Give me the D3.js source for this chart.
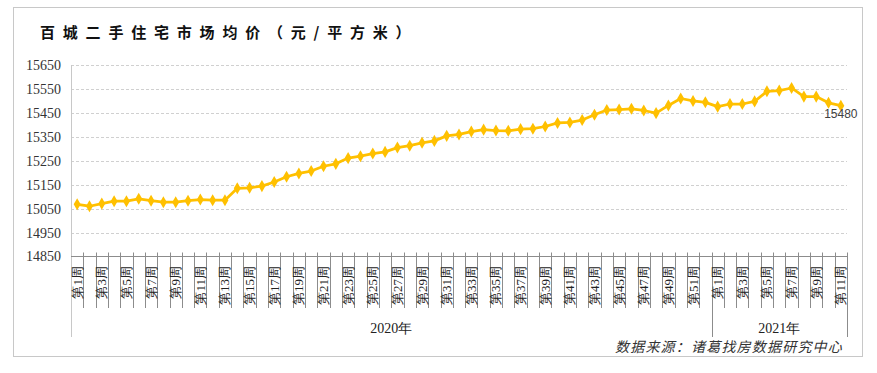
<!DOCTYPE html>
<html>
<head>
<meta charset="utf-8">
<script src="https://cdn.jsdelivr.net/npm/d3@7"></script>
<style>
  body { margin: 0; background: #fff; }
  svg { display: block; }
</style>
</head>
<body>
<div id="chart"></div>
<script>
// data
var weeks2020 = d3.range(1, 53).map(function(n) { return "第" + n + "周"; });
var weeks2021 = d3.range(1, 12).map(function(n) { return "第" + n + "周"; });
var values2020 = [15068, 15060, 15071, 15081, 15081, 15091, 15083, 15077, 15077, 15083,
                  15088, 15085, 15085, 15135, 15137, 15144, 15161, 15183, 15197, 15207,
                  15227, 15237, 15261, 15269, 15280, 15287, 15305, 15313, 15325, 15333,
                  15354, 15360, 15372, 15380, 15376, 15375, 15382, 15384, 15393, 15408,
                  15410, 15420, 15442, 15462, 15464, 15467, 15460, 15449, 15481, 15510,
                  15500, 15494];
var values2021 = [15476, 15487, 15487, 15498, 15540, 15543, 15554, 15518, 15518, 15492, 15480];
var years = ["2020年", "2021年"];
var yTicks = [14850, 14950, 15050, 15150, 15250, 15350, 15450, 15550, 15650];

var svgWidth = 877;
var svgHeight = 373;

var plot = { left: 71, right: 847, top: 65, bottom: 256.5 };

var svg = d3.select("#chart")
  .append("svg")
  .attr("width", svgWidth)
  .attr("height", svgHeight);

svg.append("rect")
  .attr("width", svgWidth)
  .attr("height", svgHeight)
  .attr("fill", "#fff");

// outer frame
svg.append("rect")
  .attr("x", 13.5)
  .attr("y", 7.5)
  .attr("width", 849)
  .attr("height", 349)
  .attr("fill", "none")
  .attr("stroke", "#c8c8c8");

svg.append("text")
  .attr("x", 40)
  .attr("y", 38)
  .style("font-family", "'Noto Sans CJK SC', sans-serif")
  .style("font-size", "15px")
  .style("font-weight", "bold")
  .style("letter-spacing", "7.8px")
  .attr("fill", "#111")
  .text("百城二手住宅市场均价（元/平方米）");

// build the rows
var rows = [];
weeks2020.forEach(function(w, i) { rows.push({ key: "2020-" + (i + 1), label: w, year: 0, week: i + 1, value: values2020[i] }); });
weeks2021.forEach(function(w, i) { rows.push({ key: "2021-" + (i + 1), label: w, year: 1, week: i + 1, value: values2021[i] }); });

var x = d3.scaleBand()
  .domain(rows.map(function(d) { return d.key; }))
  .range([plot.left, plot.right]);

var y = d3.scaleLinear()
  .domain([14850, 15650])
  .range([plot.bottom, plot.top]);

var cx = function(d) { return x(d.key) + x.bandwidth() / 2; };

// gridlines
svg.append("g")
  .selectAll("line")
  .data(yTicks.slice(1))
  .enter()
  .append("line")
  .attr("x1", plot.left)
  .attr("x2", plot.right)
  .attr("y1", function(d) { return Math.round(y(d)) + 0.5; })
  .attr("y2", function(d) { return Math.round(y(d)) + 0.5; })
  .attr("stroke", "#d0d0d0")
  .attr("stroke-dasharray", "3,2");

// y axis labels
var yAxis = svg.append("g")
  .attr("transform", "translate(" + plot.left + ",0)")
  .call(d3.axisLeft(y).tickValues(yTicks).tickSize(0).tickPadding(10).tickFormat(d3.format("d")));
yAxis.select(".domain").remove();
yAxis.selectAll("text")
  .style("font-family", "'Liberation Serif', serif")
  .style("font-size", "14px")
  .attr("fill", "#333");

// left edge line, extends through the category rows
svg.append("line")
  .attr("x1", plot.left + 0.5).attr("x2", plot.left + 0.5)
  .attr("y1", plot.top).attr("y2", 337)
  .attr("stroke", "#c8c8c8");

// category boundaries
var bounds = d3.range(1, rows.length).map(function(i) { return plot.left + i * x.step(); });
svg.append("g")
  .selectAll("line")
  .data(bounds)
  .enter()
  .append("line")
  .attr("x1", function(d) { return Math.round(d) + 0.5; })
  .attr("x2", function(d) { return Math.round(d) + 0.5; })
  .attr("y1", plot.bottom - 4)
  .attr("y2", function(d, i) { return i === weeks2020.length - 1 ? 337 : 308; })
  .attr("stroke", "#8c8c8c");

svg.append("line")
  .attr("x1", plot.right + 0.5).attr("x2", plot.right + 0.5)
  .attr("y1", plot.bottom - 4).attr("y2", 337)
  .attr("stroke", "#8c8c8c");

// x axis line
svg.append("line")
  .attr("x1", plot.left).attr("x2", plot.right + 1)
  .attr("y1", plot.bottom).attr("y2", plot.bottom)
  .attr("stroke", "#8c8c8c");

// week labels (every other one)
svg.append("g")
  .selectAll("text")
  .data(rows.filter(function(d) { return d.week % 2 === 1; }))
  .enter()
  .append("text")
  .attr("transform", function(d) { return "translate(" + (cx(d) + 4.5) + ",266) rotate(-90)"; })
  .attr("text-anchor", "end")
  .style("font-family", "'Liberation Serif', serif")
  .style("font-size", "13px")
  .attr("fill", "#222")
  .text(function(d) { return d.label; });

// year labels
var yearSpan = [
  [x(rows[0].key), x(rows[weeks2020.length - 1].key) + x.bandwidth()],
  [x(rows[weeks2020.length].key), plot.right]
];
svg.append("g")
  .selectAll("text")
  .data(years)
  .enter()
  .append("text")
  .attr("x", function(d, i) { return (yearSpan[i][0] + yearSpan[i][1]) / 2; })
  .attr("y", 333)
  .attr("text-anchor", "middle")
  .style("font-family", "'Liberation Serif', serif")
  .style("font-size", "14px")
  .attr("fill", "#222")
  .text(function(d) { return d; });

// the line
var line = d3.line()
  .x(cx)
  .y(function(d) { return y(d.value); });

svg.append("path")
  .datum(rows)
  .attr("d", line)
  .attr("fill", "none")
  .attr("stroke", "#ffc000")
  .attr("stroke-width", 2.75)
  .attr("stroke-linejoin", "round");

svg.append("g")
  .selectAll("path")
  .data(rows)
  .enter()
  .append("path")
  .attr("transform", function(d) { return "translate(" + cx(d) + "," + y(d.value) + ")"; })
  .attr("d", d3.symbol().type(d3.symbolDiamond).size(42))
  .attr("fill", "#ffc000");

// last value label
var last = rows[rows.length - 1];
svg.append("text")
  .attr("x", cx(last))
  .attr("y", y(last.value) + 12)
  .attr("text-anchor", "middle")
  .style("font-family", "'Liberation Sans', Arial, sans-serif")
  .style("font-size", "12px")
  .attr("fill", "#404040")
  .text(last.value);

// source
svg.append("text")
  .attr("x", 615)
  .attr("y", 352)
  .style("font-family", "'Noto Sans CJK SC', sans-serif")
  .style("font-size", "14px")
  .style("font-style", "italic")
  .style("letter-spacing", "1.2px")
  .attr("fill", "#333")
  .text("数据来源：诸葛找房数据研究中心");
</script>
</body>
</html>
